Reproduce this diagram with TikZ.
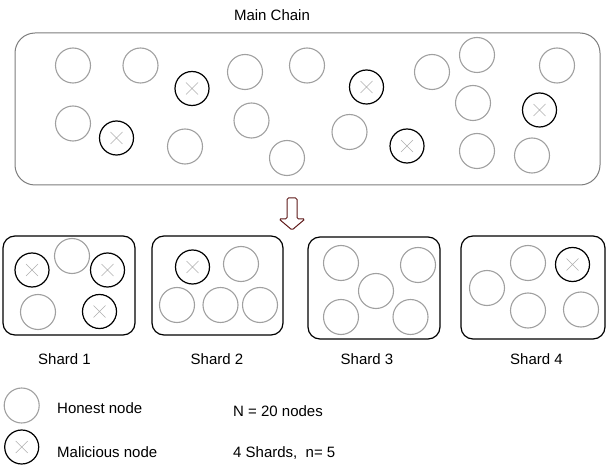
\documentclass[tikz,border=0pt]{standalone}
\usepackage{fontspec}
\setmainfont{Liberation Sans}
\definecolor{honestgray}{RGB}{160,160,160}
\definecolor{boxgray}{RGB}{125,125,125}
\definecolor{crossgray}{RGB}{175,175,175}
\definecolor{arrowred}{RGB}{95,25,25}

\begin{document}
\begin{tikzpicture}
        [x=1pt,y=-1pt,every node/.style={inner sep=0pt},
         honest/.style={circle,draw=honestgray,line width=1.1pt,minimum size=35pt},
         malicious/.style={circle,draw=black,line width=1.2pt,minimum size=34pt,
           path picture={\draw[crossgray,line width=0.6pt]
             ([shift={(-6pt,-6pt)}]path picture bounding box.center) -- ([shift={(6pt,6pt)}]path picture bounding box.center)
             ([shift={(-6pt,6pt)}]path picture bounding box.center) -- ([shift={(6pt,-6pt)}]path picture bounding box.center);}},
         shardbox/.style={draw=black,line width=1.2pt,rounded corners=12pt},
         label/.style={font=\fontsize{15}{18}\selectfont,anchor=base}]
        \useasboundingbox (0,0) rectangle (608,465);

        % main chain
        \node (title) [label] at (272,20.7) {Main Chain};
        \node (chain) [draw=boxgray,line width=1pt,rounded corners=20pt,
            minimum width=585pt,minimum height=152pt] at (307.5,109) {};

        \node (h1) [honest] at (73,65.5) {};
        \node (h2) [honest] at (140.5,65.5) {};
        \node (h3) [honest] at (245,72) {};
        \node (h4) [honest] at (307,65.5) {};
        \node (h5) [honest] at (432,72) {};
        \node (h6) [honest] at (477,55) {};
        \node (h7) [honest] at (557,65.5) {};
        \node (h8) [honest] at (473,103) {};
        \node (h9) [honest] at (73,123.5) {};
        \node (h10) [honest] at (185,146.5) {};
        \node (h11) [honest] at (251.5,120.5) {};
        \node (h12) [honest] at (287,158) {};
        \node (h13) [honest] at (349.5,132) {};
        \node (h14) [honest] at (477,151) {};
        \node (h15) [honest] at (532,155.5) {};
        \node (m1) [malicious] at (192,88.5) {};
        \node (m2) [malicious] at (366.5,87) {};
        \node (m3) [malicious] at (539.5,110) {};
        \node (m4) [malicious] at (116.5,138) {};
        \node (m5) [malicious] at (407,146) {};

        % split arrow
        \draw[arrowred,fill=white,line width=1pt,rounded corners=1.5pt]
            (287,219) -- (287,198) -- (297,198) -- (297,219) -- (305,219)
            -- (292,230) -- (279,219) -- cycle;

        % shards
        \node (shard1) [shardbox,minimum width=132pt,minimum height=99pt] at (69,285.5) {};
        \node (shard2) [shardbox,minimum width=131pt,minimum height=99pt] at (217.5,285.5) {};
        \node (shard3) [shardbox,minimum width=132pt,minimum height=102pt] at (374,288) {};
        \node (shard4) [shardbox,minimum width=144pt,minimum height=103pt] at (533,287.5) {};

        \node (a1) [honest] at (72,256) {};
        \node (a2) [malicious] at (32,270) {};
        \node (a3) [malicious] at (107.5,270) {};
        \node (a4) [honest] at (38,312) {};
        \node (a5) [malicious] at (99.5,311.5) {};

        \node (b1) [malicious] at (192.5,267) {};
        \node (b2) [honest] at (241,264) {};
        \node (b3) [honest] at (177,305) {};
        \node (b4) [honest] at (220.5,305) {};
        \node (b5) [honest] at (260,305) {};

        \node (c1) [honest] at (341,263) {};
        \node (c2) [honest] at (418,265) {};
        \node (c3) [honest] at (376,291) {};
        \node (c4) [honest] at (341,317) {};
        \node (c5) [honest] at (410.5,317) {};

        \node (d1) [honest] at (487,288) {};
        \node (d2) [honest] at (528,263) {};
        \node (d3) [malicious] at (572.5,264.5) {};
        \node (d4) [honest] at (528,310.5) {};
        \node (d5) [honest] at (581,309.5) {};

        \node (l1) [label] at (64.5,364) {Shard 1};
        \node (l2) [label] at (217,364) {Shard 2};
        \node (l3) [label] at (367,364) {Shard 3};
        \node (l4) [label] at (536.5,364) {Shard 4};

        % legend
        \node (kh) [honest] at (21.7,405.5) {};
        \node (km) [malicious] at (21.7,447) {};
        \node (th) [label,anchor=base west] at (57,413.3) {Honest node};
        \node (tm) [label,anchor=base west] at (57,457) {Malicious node};
        \node (tn) [label,anchor=base west] at (233,416.7) {N = 20 nodes};
        \node (ts) [label,anchor=base west] at (233,457) {4 Shards,~ n= 5};
    \end{tikzpicture}
\end{document}
